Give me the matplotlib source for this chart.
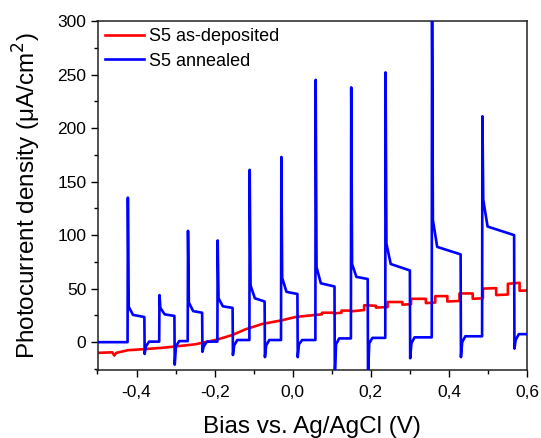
import matplotlib
matplotlib.use("Agg")
import matplotlib.pyplot as plt
from matplotlib.ticker import MultipleLocator, FixedLocator, FixedFormatter

plt.rcParams['font.family'] = ['Liberation Sans', 'DejaVu Sans']

# ---- data ----
# S5 as-deposited (red) vertices
red_x = [-0.52, -0.50, -0.462, -0.457, -0.452, -0.422, -0.38, -0.335, -0.30, -0.25,
         -0.198, -0.156, -0.121, -0.078, -0.027, 0.007, 0.046,
         0.075, 0.075, 0.105, 0.105, 0.125, 0.125, 0.150, 0.150, 0.183, 0.183,
         0.213, 0.213, 0.243, 0.243, 0.281, 0.281, 0.303, 0.303, 0.341, 0.341,
         0.365, 0.365, 0.396, 0.396, 0.427, 0.427, 0.461, 0.461, 0.487, 0.487,
         0.521, 0.521, 0.551, 0.551, 0.581, 0.581, 0.62]
red_y = [-10.5, -10.0, -9.5, -12.5, -10.0, -7.5, -6.5, -5.3, -4.0, -2.0,
         2.0, 6.5, 12.0, 17.0, 20.5, 23.5, 25.0,
         26.0, 27.5, 27.5, 26.8, 27.5, 29.5, 29.5, 28.8, 30.0, 34.5,
         34.0, 32.3, 32.8, 37.5, 37.5, 35.0, 35.5, 40.5, 40.5, 36.5,
         37.0, 43.0, 43.0, 38.0, 38.5, 45.5, 45.5, 40.5, 41.0, 50.0,
         50.5, 44.0, 44.5, 54.5, 55.5, 48.0, 48.5]

# S5 annealed (blue) chopped-light pulses
light_on  = [-0.423, -0.342, -0.269, -0.193, -0.111, -0.030, 0.058, 0.149, 0.237, 0.356, 0.485]
light_off = [-0.380, -0.303, -0.232, -0.154, -0.072, 0.012, 0.107, 0.192, 0.300, 0.430, 0.567]
peak      = [135, 44, 104, 95, 161, 173, 245, 238, 252, 330, 211]
knee      = [33, 32, 37, 41, 53, 60, 70, 73, 92, 114, 133]
shoulder  = [25.5, 26, 29, 33.5, 41, 47, 55, 61, 73, 89, 108]
plateau   = [23.5, 24.5, 27.5, 32, 38, 45, 52, 59, 67, 82, 100]
dip       = [-11, -21, -9, -12, -14, -14, -32, -32, -15, -14, -6]
recover   = [-4, -4, -4, -3, -3, -2, -2, -1, -1, 0, 2]
dark_base = [0.5, 1, 0.5, 2, 2, 2, 3.5, 4, 4.5, 5.5, 7.5]
start_base = 0.0

x_ticks = [-0.4, -0.2, 0.0, 0.2, 0.4, 0.6]
x_tick_labels = ['-0,4', '-0,2', '0,0', '0,2', '0,4', '0,6']
y_ticks = [0, 50, 100, 150, 200, 250, 300]

# ---- build blue path ----
bx = [-0.52]
by = [start_base]
prev = start_base
for i in range(len(light_on)):
    on, off = light_on[i], light_off[i]
    bx += [on, on + 0.0008, on + 0.003, on + 0.014, off,
           off + 0.0008, off + 0.004, off + 0.012]
    by += [prev, peak[i], knee[i], shoulder[i], plateau[i],
           dip[i], recover[i], dark_base[i]]
    prev = dark_base[i]
bx.append(0.62)
by.append(prev)

# ---- figure ----
fig = plt.figure(figsize=(5.41, 4.38), dpi=100)
ax = fig.add_axes([97.5/541, 68/438, (527-97.5)/541, (417-68)/438])

ax.plot(red_x, red_y, color='#ff0000', lw=1.9, label='S5 as-deposited', zorder=2)
ax.plot(bx, by, color='#0000ff', lw=1.9, label='S5 annealed', zorder=3,
        solid_joinstyle='round')

ax.set_xlim(-0.5, 0.6)
ax.set_ylim(-26, 300)

ax.xaxis.set_major_locator(FixedLocator(x_ticks))
ax.xaxis.set_major_formatter(FixedFormatter(x_tick_labels))
ax.xaxis.set_minor_locator(MultipleLocator(0.1))
ax.yaxis.set_major_locator(FixedLocator(y_ticks))
ax.yaxis.set_minor_locator(MultipleLocator(25))

ax.tick_params(which='major', direction='out', length=5, width=1, labelsize=12.5)
ax.tick_params(which='minor', direction='out', length=3, width=1)
ax.tick_params(axis='x', which='major', pad=6)
ax.tick_params(axis='y', which='major', pad=3)
for s in ax.spines.values():
    s.set_linewidth(1.1)
    s.set_color('#222222')

ax.set_xlabel('Bias vs. Ag/AgCl (V)', fontsize=17.5, labelpad=11)
ax.set_ylabel('Photocurrent density (\u03bcA/cm$^2$)', fontsize=17.5, labelpad=10)

leg = ax.legend(loc='upper left', bbox_to_anchor=(0.0, 1.0), frameon=False,
                fontsize=13, handlelength=2.2, handletextpad=0.25,
                labelspacing=0.42, borderaxespad=0.25, borderpad=0.15)

fig.savefig('out.png', dpi=100)
